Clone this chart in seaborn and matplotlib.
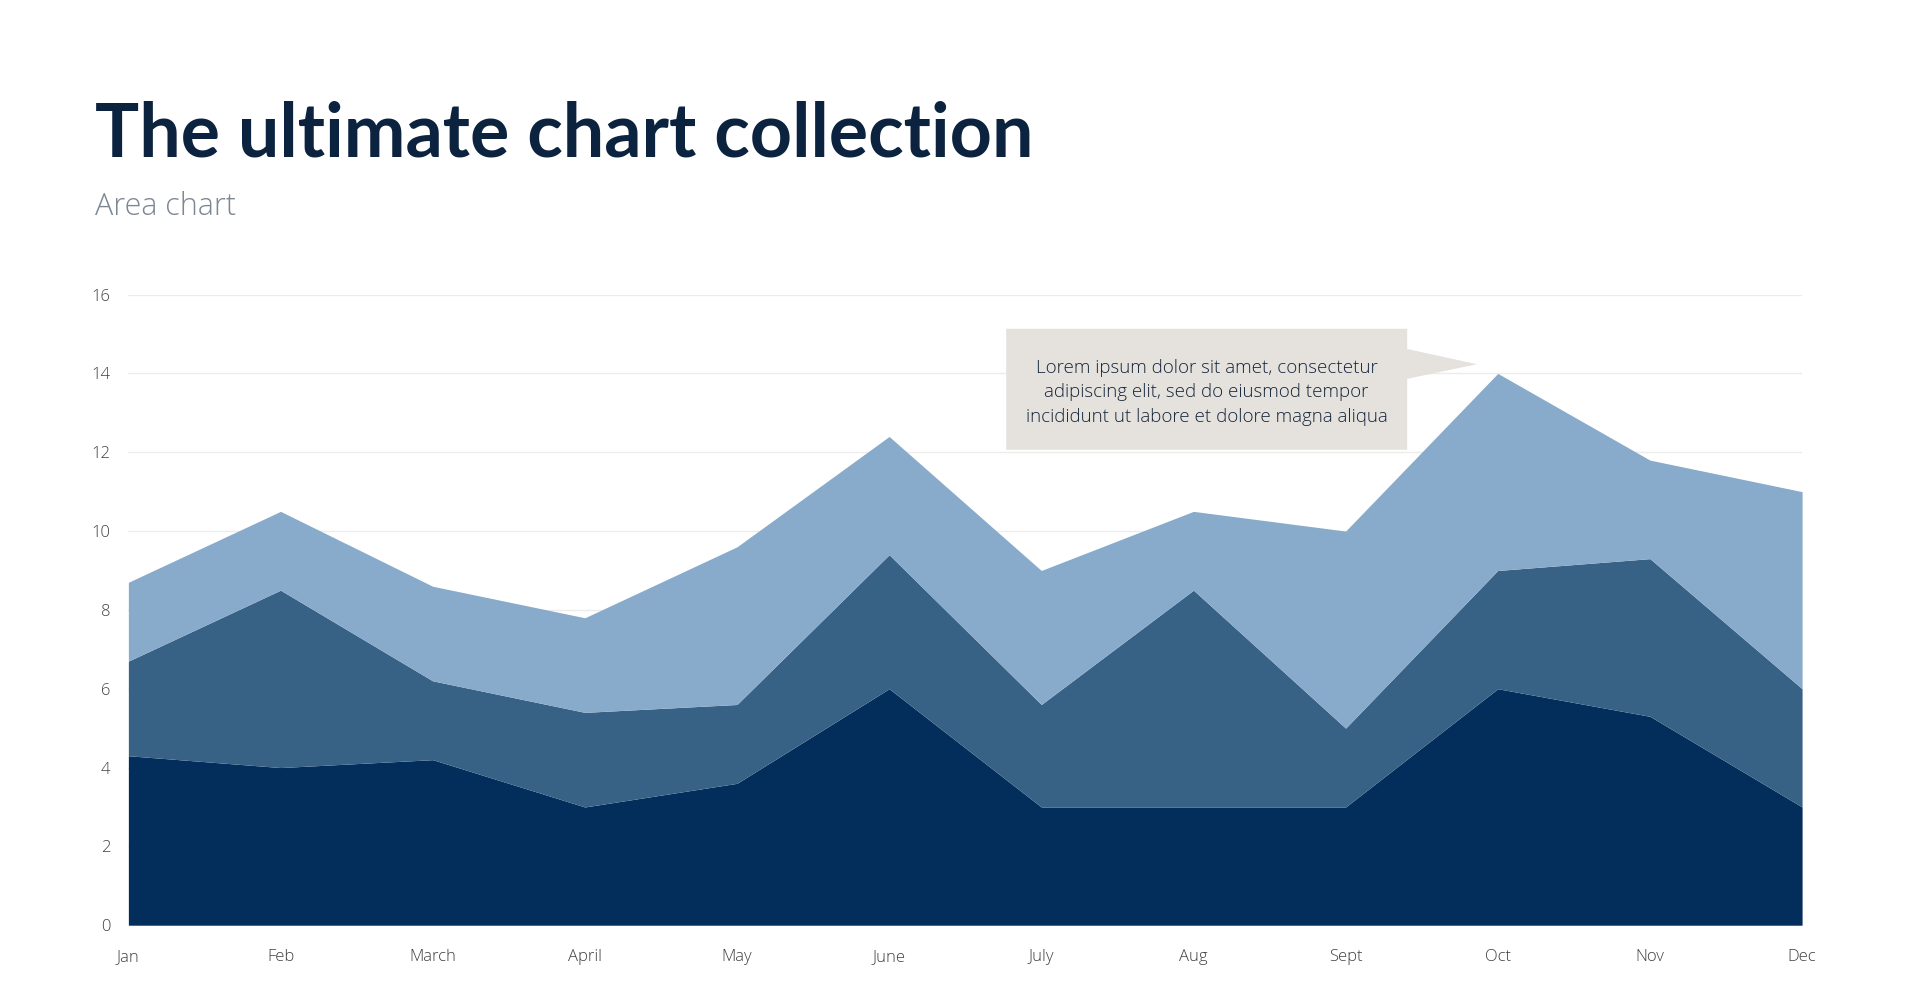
import matplotlib
matplotlib.use('Agg')
import matplotlib.pyplot as plt
from matplotlib.patches import Polygon
import numpy as np
import seaborn as sns

# chart data
months = ['Jan', 'Feb', 'March', 'April', 'May', 'June', 'July', 'Aug', 'Sept', 'Oct', 'Nov', 'Dec']
series_a = [4.3, 4.0, 4.2, 3.0, 3.6, 6.0, 3.0, 3.0, 3.0, 6.0, 5.3, 3.0]
series_b = [2.4, 4.5, 2.0, 2.4, 2.0, 3.4, 2.6, 5.5, 2.0, 3.0, 4.0, 3.0]
series_c = [2.0, 2.0, 2.4, 2.4, 4.0, 3.0, 3.4, 2.0, 5.0, 5.0, 2.5, 5.0]
y_ticks = [0, 2, 4, 6, 8, 10, 12, 14, 16]

colors = ['#032e5c', '#376185', '#88abcb']

sns.set_theme(style='white')
plt.rcParams['font.family'] = ['Open Sans', 'DejaVu Sans']

W, H = 1568, 819  # reference layout grid used for placement

fig = plt.figure(figsize=(19.17, 10.01), dpi=100)
ax = fig.add_axes([105 / W, 1 - 757 / H, (1474 - 105) / W, (757 - 241) / H])

x = np.arange(len(months))
ax.stackplot(x, series_a, series_b, series_c, colors=colors, linewidth=0, zorder=2)

ax.set_xlim(0, len(months) - 1)
ax.set_ylim(0, 16)
ax.set_yticks(y_ticks)
ax.set_xticks(x)
ax.set_xticklabels(months)
ax.yaxis.grid(True, color='#ececec', linewidth=1.0, zorder=0)
ax.set_axisbelow(True)
sns.despine(ax=ax, left=True, bottom=True)
ax.tick_params(axis='both', length=0, labelsize=12, colors='#404040')
ax.tick_params(axis='y', pad=13)
ax.tick_params(axis='x', pad=17)
for lbl in ax.get_xticklabels() + ax.get_yticklabels():
    lbl.set_fontweight('light')

# title + subtitle
fig.text(78 / W, 1 - 128 / H, 'The ultimate chart collection', fontsize=53, fontweight='bold',
         family=['Lato', 'DejaVu Sans'], color='#0c2340', ha='left', va='baseline')
fig.text(78 / W, 1 - 176 / H, 'Area chart', fontsize=22, fontweight='light',
         color='#7c8794', ha='left', va='baseline')

# callout box with pointer
bx0, bx1, by0, by1 = 823 / W, 1151 / W, 1 - 368 / H, 1 - 269 / H
box = Polygon([(bx0, by0), (bx1, by0), (bx1, 1 - 310 / H), (1208 / W, 1 - 298 / H),
               (bx1, 1 - 285.5 / H), (bx1, by1), (bx0, by1)],
              closed=True, transform=fig.transFigure, facecolor='#e5e2de', edgecolor='none', zorder=5)
fig.patches.append(box)
fig.text((bx0 + bx1) / 2, 1 - 321 / H,
         'Lorem ipsum dolor sit amet, consectetur\nadipiscing elit, sed do eiusmod tempor\nincididunt ut labore et dolore magna aliqua',
         fontsize=13.5, fontweight='light', color='#16263a', ha='center', va='center',
         linespacing=1.45, zorder=6)

fig.savefig('out.png', dpi=100)
